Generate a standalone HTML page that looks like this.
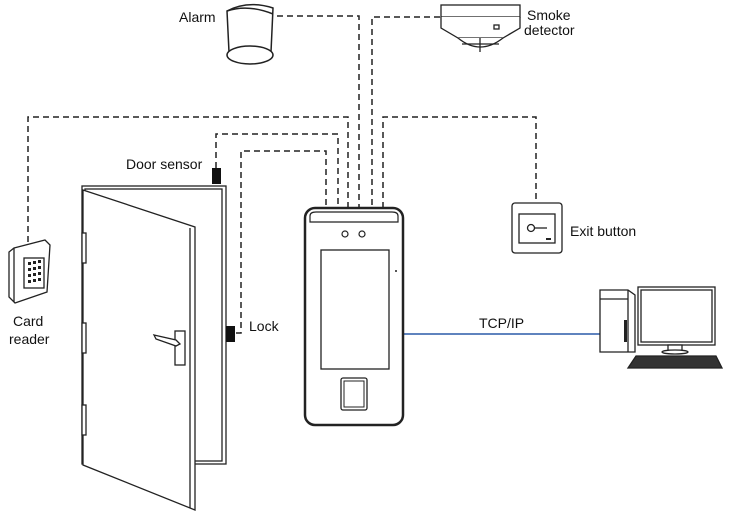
<!DOCTYPE html>
<html><head><meta charset="utf-8"><style>
html,body{margin:0;padding:0;background:#fff}
svg{display:block}
text{font-family:"Liberation Sans",sans-serif;font-size:14px;fill:#111}
</style></head><body>
<svg width="732" height="512" viewBox="0 0 732 512" xmlns="http://www.w3.org/2000/svg">
<g fill="none" stroke="#222" stroke-width="1.5" stroke-dasharray="6,4">
<polyline points="277,16 359,16 359,208"/>
<polyline points="440,17 372,17 372,208"/>
<polyline points="28,242 28,117 348,117 348,208"/>
<polyline points="216,168 216,134 338,134 338,208"/>
<polyline points="236,333 241,333 241,151 326,151 326,208"/>
<polyline points="383,208 383,117 536,117 536,203"/>
</g>
<line x1="403" y1="334" x2="600" y2="334" stroke="#2a5aa8" stroke-width="1.5"/>
<!-- alarm -->
<g fill="#fff" stroke="#222" stroke-width="1.5">
<path d="M227,11 Q248,0 273,8 L271,52 L229,52 Z"/>
<path d="M227,11 Q248,4 273,14"/>
<ellipse cx="250" cy="55" rx="23" ry="9"/>
</g>
<text x="179" y="22">Alarm</text>
<!-- smoke detector -->
<g fill="#fff" stroke="#222" stroke-width="1.3">
<rect x="441" y="5" width="79" height="12"/>
<path d="M441,17 L441,28 L458,38 L503,38 L520,28 L520,17"/>
<path d="M458,38 Q480,56 503,38"/>
<line x1="480" y1="38" x2="480" y2="52"/>
<line x1="462" y1="44" x2="499" y2="44"/>
<rect x="494" y="25" width="5" height="4"/>
</g>
<text x="527" y="20">Smoke</text>
<text x="524" y="35">detector</text>
<!-- card reader -->
<g fill="#fff" stroke="#222" stroke-width="1.3">
<path d="M14,248 L45,240 L50,245 L47,292 L15,303 L9,297 L9,252 Z"/>
<path d="M14,248 L14,302"/>
<rect x="24" y="258" width="20" height="30"/>
</g>
<g fill="#222">
<rect x="28" y="262" width="3" height="3"/><rect x="33" y="261" width="3" height="3"/><rect x="38" y="260" width="3" height="3"/>
<rect x="28" y="268" width="3" height="3"/><rect x="33" y="267" width="3" height="3"/><rect x="38" y="266" width="3" height="3"/>
<rect x="28" y="274" width="3" height="3"/><rect x="33" y="273" width="3" height="3"/><rect x="38" y="272" width="3" height="3"/>
<rect x="28" y="280" width="3" height="3"/><rect x="33" y="279" width="3" height="3"/><rect x="38" y="278" width="3" height="3"/>
</g>
<text x="13" y="326">Card</text>
<text x="9" y="344">reader</text>
<!-- door -->
<g fill="#fff" stroke="#222" stroke-width="1.3">
<rect x="82" y="186" width="144" height="278"/>
<rect x="85" y="189" width="137" height="272"/>
<path d="M83,190 L195,227 L195,510 L83,465 Z"/>
<line x1="190" y1="228" x2="190" y2="508"/>
<rect x="82" y="233" width="4" height="30"/>
<rect x="82" y="323" width="4" height="30"/>
<rect x="82" y="405" width="4" height="30"/>
<rect x="175" y="331" width="10" height="34"/>
<path d="M154,335 L176,340 L180,344 L176,346 L156,339 Z"/>
</g>
<rect x="212" y="168" width="9" height="16" fill="#111"/>
<rect x="226" y="326" width="9" height="16" fill="#111"/>
<text x="126" y="169">Door sensor</text>
<text x="249" y="331">Lock</text>
<!-- device -->
<g fill="#fff" stroke="#222">
<rect x="305" y="208" width="98" height="217" rx="10" stroke-width="2.5"/>
<path d="M310,222 L310,216 Q310,212 316,212 L392,212 Q398,212 398,216 L398,222 Z" stroke-width="1.2"/>
<rect x="321" y="250" width="68" height="119" stroke-width="1.3"/>
<rect x="341" y="378" width="26" height="32" rx="2" stroke-width="1.3"/>
<rect x="344" y="381" width="20" height="26" stroke-width="1"/>
<circle cx="345" cy="234" r="3" stroke-width="1.2"/>
<circle cx="362" cy="234" r="3" stroke-width="1.2"/>
</g>
<circle cx="396" cy="271" r="1" fill="#222"/>
<text x="479" y="328">TCP/IP</text>
<!-- exit button -->
<g fill="#fff" stroke="#222" stroke-width="1.3">
<rect x="512" y="203" width="50" height="50" rx="3"/>
<rect x="519" y="214" width="36" height="29"/>
<circle cx="531" cy="228" r="3.5"/>
<line x1="535" y1="228" x2="547" y2="228"/>
</g>
<rect x="546" y="238" width="5" height="2" fill="#222"/>
<text x="570" y="236">Exit button</text>
<!-- computer -->
<g fill="#fff" stroke="#222" stroke-width="1.3">
<path d="M600,290 L628,290 L635,295 L635,352 L600,352 Z"/>
<line x1="600" y1="299" x2="628" y2="299"/>
<line x1="628" y1="290" x2="628" y2="352"/>
<rect x="638" y="287" width="77" height="58"/>
<rect x="641" y="290" width="71" height="52"/>
<rect x="668" y="345" width="14" height="6"/>
<ellipse cx="675" cy="352" rx="13" ry="2"/>
<path d="M636,356 L716,356 L722,368 L628,368 Z" fill="#333"/>
</g>
<rect x="624" y="320" width="3" height="22" fill="#222"/>
</svg>
</body></html>
